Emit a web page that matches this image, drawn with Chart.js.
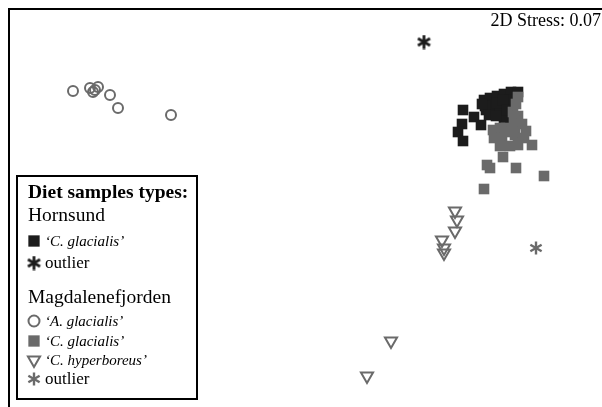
<!DOCTYPE html>
<html>
<head>
<meta charset="utf-8">
<script src="https://cdn.jsdelivr.net/npm/chart.js@4.4.0/dist/chart.umd.min.js"></script>
<style>
  html, body { margin: 0; padding: 0; background: #fff; }
  #wrap { width: 602px; height: 407px; }
</style>
</head>
<body>
<div id="wrap"><canvas id="nmds" width="602" height="407"></canvas></div>
<script>
// NMDS ordination scores (plot units)
const hornGlacialis = [
  [463,110],[474,117],[481,125],[462,124],[458,132],[463,141],
  [484,100],[490,98],[497,96],[504,94],[511,92],[518,92],[486,110],[495,110],
  [504,106],[492,105],[500,113],[504,119],[510,100],[485,106],[497,103],
  [482,104],[489,115],[496,116],[503,100],[507,110]
];
const magGlacialis = [
  [518,97],[516,104],[513,112],[518,116],[514,121],[500,128],[493,130],
  [506,128],[515,125],[522,124],[526,131],[494,138],[502,138],[515,135],
  [524,138],[500,146],[510,146],[518,145],[512,132],
  [532,145],[503,157],[487,165],[490,168],[516,168],[544,176],[484,189]
];
const aGlacialis = [[73,91],[90,88],[93,92],[95,90],[98,87],[110,95],[118,108],[171,115]];
const hyperboreus = [[455,211],[457,220],[455,231],[442,240],[444,248],[444,253],[391,341],[367,376]];
const hornOutlier = [[424,42]];
const magOutlier = [[536,248]];

const stressLabel = '2D Stress: 0.07';
const legendTitle = 'Diet samples types:';
const legendGroups = ['Hornsund', 'Magdalenefjorden'];

const BLACK = '#1c1c1c';
const GRAY = '#6a6a6a';
const SERIF = '"Liberation Serif", "DejaVu Serif", serif';

// six-spoked asterisk used as a point image
function asterisk(color, size, lw) {
  const c = document.createElement('canvas');
  c.width = size; c.height = size;
  const g = c.getContext('2d');
  g.strokeStyle = color;
  g.lineWidth = lw;
  const r = size / 2 - 0.5;
  for (let a of [90, 30, 150]) {
    const t = a * Math.PI / 180;
    g.beginPath();
    g.moveTo(size / 2 - Math.cos(t) * r, size / 2 - Math.sin(t) * r);
    g.lineTo(size / 2 + Math.cos(t) * r, size / 2 + Math.sin(t) * r);
    g.stroke();
  }
  return c;
}

const pts = arr => arr.map(([x, y]) => ({ x, y }));

const markers = {
  hornSq: { pointStyle: 'rect', radius: 7.5, fill: BLACK, stroke: BLACK, bw: 0 },
  magSq: { pointStyle: 'rect', radius: 7.5, fill: GRAY, stroke: GRAY, bw: 0 },
  circ: { pointStyle: 'circle', radius: 5, fill: 'rgba(0,0,0,0)', stroke: GRAY, bw: 2 },
  tri: { pointStyle: 'triangle', radius: 7, rotation: 180, fill: 'rgba(0,0,0,0)', stroke: GRAY, bw: 2 },
  hornStar: { pointStyle: asterisk(BLACK, 15, 2.8), radius: 7, fill: BLACK, stroke: BLACK, bw: 0 },
  magStar: { pointStyle: asterisk(GRAY, 14, 2.4), radius: 7, fill: GRAY, stroke: GRAY, bw: 0 }
};

function ds(label, data, m, order) {
  return {
    label, data: pts(data), order,
    pointStyle: m.pointStyle, pointRadius: m.radius, pointRotation: m.rotation || 0,
    backgroundColor: m.fill, borderColor: m.stroke, borderWidth: m.bw,
    pointHoverRadius: m.radius
  };
}

function drawMarker(ctx, m, x, y, grow) {
  ctx.save();
  ctx.fillStyle = m.fill;
  ctx.strokeStyle = m.stroke;
  ctx.lineWidth = m.bw;
  Chart.helpers.drawPoint(ctx, { pointStyle: m.pointStyle, radius: m.radius + (grow || 0), rotation: m.rotation || 0, borderWidth: m.bw }, x, y);
  ctx.restore();
}

// frame, stress label and the boxed legend
const decorations = {
  id: 'decorations',
  afterDraw(chart) {
    const { ctx, chartArea: a } = chart;
    ctx.save();
    ctx.fillStyle = '#000';
    ctx.fillRect(a.left, a.top, a.right - a.left, 2);
    ctx.fillRect(a.left, a.top, 2, a.bottom - a.top);

    ctx.font = '18px ' + SERIF;
    ctx.textAlign = 'right';
    ctx.textBaseline = 'alphabetic';
    ctx.fillText(stressLabel, 601, 26);

    // legend box
    ctx.fillStyle = '#fff';
    ctx.fillRect(17, 176, 180, 223);
    ctx.strokeStyle = '#000';
    ctx.lineWidth = 2;
    ctx.strokeRect(17, 176, 180, 223);

    ctx.fillStyle = '#000';
    ctx.textAlign = 'left';
    ctx.font = 'bold 19.5px ' + SERIF;
    ctx.fillText(legendTitle, 28, 198);
    ctx.font = '19.5px ' + SERIF;
    ctx.fillText(legendGroups[0], 28, 221);
    ctx.fillText(legendGroups[1], 28, 303);

    const rows = [
      [markers.hornSq, "\u2018C. glacialis\u2019", true, 241, 0.5],
      [markers.hornStar, 'outlier', false, 263, 0],
      [markers.circ, "\u2018A. glacialis\u2019", true, 321, 0.5],
      [markers.magSq, "\u2018C. glacialis\u2019", true, 341, 0.5],
      [markers.tri, "\u2018C. hyperboreus\u2019", true, 360, 0],
      [markers.magStar, 'outlier', false, 379, 0]
    ];
    rows.forEach(([m, text, italic, y, grow]) => {
      drawMarker(ctx, m, 34, y, grow);
      ctx.fillStyle = '#000';
      ctx.font = italic ? 'italic 15px ' + SERIF : '17px ' + SERIF;
      ctx.fillText(text, 45, y + 5);
    });
    ctx.restore();
  }
};

new Chart(document.getElementById('nmds'), {
  type: 'scatter',
  data: {
    datasets: [
      ds("Magdalenefjorden 'C. glacialis'", magGlacialis, markers.magSq, 1),
      ds("Hornsund 'C. glacialis'", hornGlacialis, markers.hornSq, 2),
      ds("Magdalenefjorden 'A. glacialis'", aGlacialis, markers.circ, 0),
      ds("Magdalenefjorden 'C. hyperboreus'", hyperboreus, markers.tri, 0),
      ds('Hornsund outlier', hornOutlier, markers.hornStar, 0),
      ds('Magdalenefjorden outlier', magOutlier, markers.magStar, 0)
    ]
  },
  options: {
    responsive: false,
    animation: false,
    devicePixelRatio: 1,
    layout: { autoPadding: false, padding: { left: 8, top: 8, right: 0, bottom: 0 } },
    scales: {
      x: { type: 'linear', display: false, min: 8, max: 602 },
      y: { type: 'linear', display: false, min: 8, max: 407, reverse: true }
    },
    plugins: {
      legend: { display: false },
      tooltip: { enabled: false }
    }
  },
  plugins: [decorations]
});
</script>
</body>
</html>
